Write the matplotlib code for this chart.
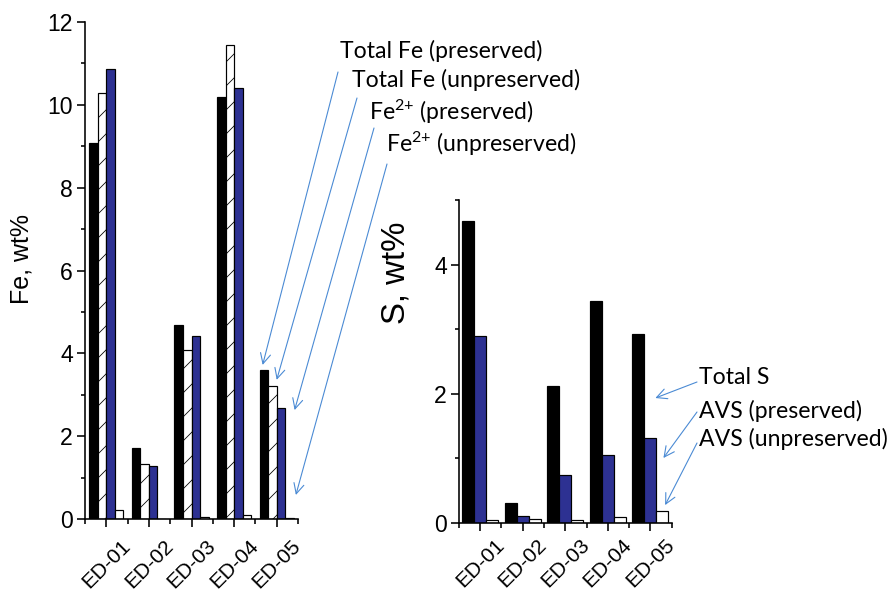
import matplotlib.pyplot as plt
import numpy as np

# sample names and values
samples = ['ED-01', 'ED-02', 'ED-03', 'ED-04', 'ED-05']

fe_total_pres = [9.07, 1.72, 4.68, 10.18, 3.59]
fe_total_unpres = [10.28, 1.33, 4.09, 11.45, 3.20]
fe2_pres = [10.87, 1.29, 4.42, 10.40, 2.69]
fe2_unpres = [0.21, 0.01, 0.06, 0.09, 0.02]

s_total = [4.67, 0.31, 2.11, 3.43, 2.92]
avs_pres = [2.89, 0.10, 0.74, 1.05, 1.31]
avs_unpres = [0.04, 0.06, 0.04, 0.09, 0.18]

fe_labels = ['Total Fe (preserved)', 'Total Fe (unpreserved)',
             'Fe$^{2{+}}$ (preserved)', 'Fe$^{2{+}}$ (unpreserved)']
s_labels = ['Total S', 'AVS (preserved)', 'AVS (unpreserved)']

blue = '#2d3192'
arrow_blue = '#4a8ad4'

# dpi 72 so that 1 pt == 1 px
plt.rcParams['font.family'] = ['Liberation Sans', 'DejaVu Sans']
plt.rcParams['hatch.linewidth'] = 0.8
plt.rcParams['mathtext.fontset'] = 'custom'
plt.rcParams['mathtext.rm'] = 'Lato'
plt.rcParams['mathtext.it'] = 'Lato'

fig = plt.figure(figsize=(895 / 72, 597 / 72), dpi=72)
W, H = 895, 597

def px(x, y):
    return (x / W, 1 - y / H)

ax1 = fig.add_axes([85 / W, 1 - 519 / H, 213 / W, 497 / H])
ax2 = fig.add_axes([459 / W, 1 - 522.5 / H, 212.5 / W, 322.5 / H])

x = np.arange(len(samples))

# left: iron
w = 0.2
ax1.bar(x - 0.3, fe_total_pres, w, color='black', edgecolor='black', lw=1.2)
ax1.bar(x - 0.1, fe_total_unpres, w, color='white', edgecolor='black', lw=1.2, hatch='/')
ax1.bar(x + 0.1, fe2_pres, w, color=blue, edgecolor='black', lw=1.2)
ax1.bar(x + 0.3, fe2_unpres, w, color='white', edgecolor='black', lw=1.2)
ax1.set_ylim(0, 12)
ax1.set_yticks(np.arange(0, 13, 2))
ax1.set_yticks(np.arange(1, 12, 2), minor=True)

# right: sulfur
w2 = 0.28
ax2.bar(x - w2, s_total, w2, color='black', edgecolor='black', lw=1.2)
ax2.bar(x, avs_pres, w2, color=blue, edgecolor='black', lw=1.2)
ax2.bar(x + w2, avs_unpres, w2, color='white', edgecolor='black', lw=1.2)
ax2.set_ylim(0, 5)
ax2.set_yticks([0, 2, 4])
ax2.set_yticks([1, 3, 5], minor=True)

for ax, xpad in ((ax1, 9), (ax2, 5)):
    ax.set_xlim(-0.5, 4.5)
    ax.set_xticks(x)
    ax.set_xticks(np.arange(-0.5, 5, 1), minor=True)
    ax.set_xticklabels(samples, rotation=45, ha='center', fontsize=21)
    for s in ('top', 'right'):
        ax.spines[s].set_visible(False)
    for s in ('left', 'bottom'):
        ax.spines[s].set_linewidth(1.6)
    ax.tick_params(which='major', direction='out', length=8, width=1.6)
    ax.tick_params(which='minor', direction='out', length=4.5, width=1.6)
    ax.tick_params(axis='x', which='major', pad=xpad)
    ax.tick_params(axis='y', which='major', pad=4, labelsize=23)

fig.text(22 / W, 1 - 259 / H, 'Fe, wt%', rotation=90, ha='center', va='center', fontsize=25)
fig.text(396 / W, 1 - 273 / H, 'S, wt%', rotation=90, ha='center', va='center', fontsize=33)

arrow_props = dict(arrowstyle='->,head_length=0.6,head_width=0.3', color=arrow_blue,
                   lw=1.1, shrinkA=0, shrinkB=0, mutation_scale=17)

# callout labels for the iron panel
fe_text_pos = [(340, 51), (352, 80), (369, 112), (386, 144)]
fe_arrow_start = [(338, 72), (357, 98), (374, 128), (387, 164)]
fe_arrow_tip = [(3.67, 3.72), (4.0, 3.36), (4.42, 2.63), (4.45, 0.58)]
for lab, tp, st, tip in zip(fe_labels, fe_text_pos, fe_arrow_start, fe_arrow_tip):
    fig.text(*px(*tp), lab, ha='left', va='center', fontsize=23, family='Lato')
    ax1.annotate('', xy=tip, xycoords='data', xytext=px(*st), textcoords='figure fraction',
                 arrowprops=arrow_props, annotation_clip=False)

# callout labels for the sulfur panel
s_text_pos = [(699, 377), (699, 411), (699, 439)]
s_arrow_start = [(697, 382), (697, 412), (697, 443)]
s_arrow_tip = [(4.12, 1.93), (4.31, 1.0), (4.35, 0.27)]
for lab, tp, st, tip in zip(s_labels, s_text_pos, s_arrow_start, s_arrow_tip):
    fig.text(*px(*tp), lab, ha='left', va='center', fontsize=23, family='Lato')
    ax2.annotate('', xy=tip, xycoords='data', xytext=px(*st), textcoords='figure fraction',
                 arrowprops=arrow_props, annotation_clip=False)

fig.savefig('out.png', dpi=72)
